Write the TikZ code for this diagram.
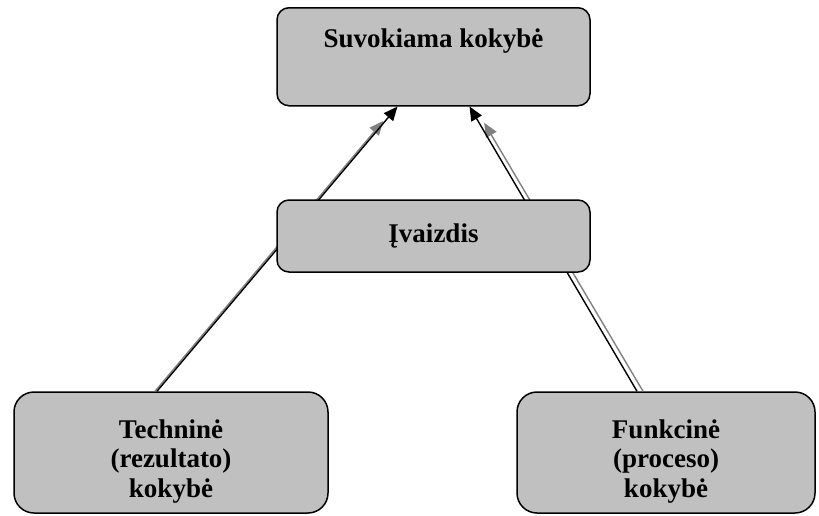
\documentclass[tikz,border=0pt]{standalone}
\usepackage{fontspec}
\setmainfont{Liberation Serif}
\usepackage{xcolor}
\usepackage{tikz}
\usetikzlibrary{arrows.meta}

\definecolor{boxgray}{RGB}{192,192,192}
\definecolor{arrowgray}{RGB}{128,128,128}

\tikzset{
  box/.style={draw=black,fill=boxgray,line width=1.5pt,rounded corners=12pt,
    inner xsep=0pt,align=center,
    font=\bfseries\fontsize{27}{29.5}\selectfont},
  big box/.style={box,rounded corners=20pt,minimum height=121pt},
  dep/.style={line width=1.4pt,-{Triangle[length=14pt,width=12pt]}},
  grey dep/.style={dep,draw=arrowgray,shorten >=19pt}
}

\begin{document}
\begin{tikzpicture}[x=1pt,y=-1pt]
  \useasboundingbox (0,0) rectangle (819,515);
  \node[box,anchor=north,minimum width=313pt,inner ysep=0pt,
        text height=40pt,text depth=58pt] (top) at (433.5,7) {Suvokiama kokyb\.e};
  \node[big box,minimum width=314pt] (tech) at (171,452.5)
    {\rule{0pt}{36pt}Technin\.e\\(rezultato)\\kokyb\.e};
  \node[big box,minimum width=298pt] (func) at (666,452.5)
    {\rule{0pt}{36pt}Funkcin\.e\\(proceso)\\kokyb\.e};
  % arrows run behind the middle box
  \draw[grey dep] ([xshift=-16pt]tech.north) -- ([xshift=-38pt]top.south);
  \draw[dep] ([xshift=-14pt]tech.north) -- ([xshift=-36pt]top.south);
  \draw[grey dep] ([xshift=-23pt]func.north) -- ([xshift=41pt]top.south);
  \draw[dep] ([xshift=-29pt]func.north) -- ([xshift=36pt]top.south);
  \node[box,minimum width=313pt,minimum height=72pt] (img) at (433.5,236) {\k{I}vaizdis};
\end{tikzpicture}
\end{document}
